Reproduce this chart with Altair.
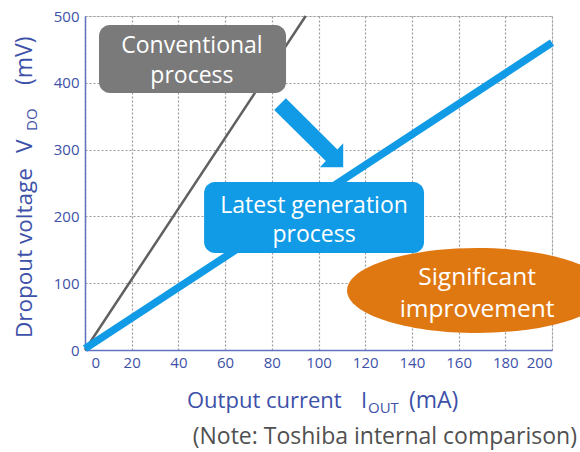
import altair as alt
import pandas as pd

# ---- data ----
current_latest = [0, 200]
vdo_latest = [2, 460]
current_conv = [0, 94.5]
vdo_conv = [0, 500]

x_ticks = [0, 20, 40, 60, 80, 100, 120, 140, 160, 180, 200]
y_ticks = [0, 50, 100, 150, 200, 250, 300, 350, 400, 450, 500]

AX = "#3d51a8"
FONT = "Open Sans"
W, H = 467, 334

xs = alt.Scale(domain=[0, 200], nice=False, zero=False)
ys = alt.Scale(domain=[0, 500], nice=False, zero=False)

df_latest = pd.DataFrame({"x": current_latest, "y": vdo_latest})
df_conv = pd.DataFrame({"x": current_conv, "y": vdo_conv})

xaxis = alt.Axis(values=x_ticks, title=None, grid=True, gridDash=[2, 2], gridColor="#9a9a9a",
                 gridWidth=1.2, ticks=False, labelFont=FONT, labelFontSize=15, labelColor=AX,
                 labelPadding=5, domainColor="#6272c4", domainWidth=1.5,
                 labelOffset={"condition": {"test": "datum.value == 0", "value": 6}, "value": 0})
yaxis = alt.Axis(values=y_ticks, title=None, grid=True, gridDash=[2, 2], gridColor="#9a9a9a",
                 gridWidth=1.2, ticks=False, labelFont=FONT, labelFontSize=15, labelColor=AX,
                 labelPadding=6, domainColor="#6272c4", domainWidth=1.5,
                 labelExpr="datum.value % 100 == 0 ? datum.label : ''")

conv = alt.Chart(df_conv).mark_line(color="#606060", strokeWidth=2.5).encode(
    x=alt.X("x:Q", scale=xs, axis=xaxis), y=alt.Y("y:Q", scale=ys, axis=yaxis))
latest = alt.Chart(df_latest).mark_line(color="#119be6", strokeWidth=7.5).encode(
    x=alt.X("x:Q", scale=xs), y=alt.Y("y:Q", scale=ys))

# annotation boxes (data coordinates)
box_df = pd.DataFrame({
    "x": [6.0, 51.0], "x2": [86.1, 145.2], "y": [486.5, 251.5], "y2": [384.7, 145.2],
    "c": ["#7a7a7a", "#119be6"]})
boxes = alt.Chart(box_df).mark_rect(cornerRadius=11).encode(
    x=alt.X("x:Q", scale=xs), x2="x2:Q", y=alt.Y("y:Q", scale=ys), y2="y2:Q",
    color=alt.Color("c:N", scale=None))

arrow_path = ("M-0.661,-1 L0.832,0.484 L1,0.304 L1,1 L0.325,1 L0.496,0.82 L-1,-0.661 Z")
arrow_df = pd.DataFrame({"x": [95.8], "y": [325.1]})
arrow = alt.Chart(arrow_df).mark_point(shape=arrow_path, size=4761, filled=True, opacity=1,
                                       color="#119be6", strokeWidth=0).encode(
    x=alt.X("x:Q", scale=xs), y=alt.Y("y:Q", scale=ys))

ellipse_path = "M-1,0 A1,0.327 0 1,1 1,0 A1,0.327 0 1,1 -1,0 Z"
ell_df = pd.DataFrame({"x": [167.9], "y": [89.1]})
ellipse = alt.Chart(ell_df).mark_point(shape=ellipse_path, size=67600, filled=True, opacity=1,
                                       color="#e07812", strokeWidth=0).encode(
    x=alt.X("x:Q", scale=xs), y=alt.Y("y:Q", scale=ys))

lab_df = pd.DataFrame({
    "x": [45.8, 45.8, 98.1, 98.1, 167.9, 167.9],
    "y": [445, 399.5, 205, 161, 97, 49.5],
    "t": ["Conventional", "process", "Latest generation", "process", "Significant", "improvement"],
    "s": [23, 23, 23, 23, 24.5, 24.5]})
labels = alt.Chart(lab_df).mark_text(color="white", font=FONT, align="center",
                                     baseline="alphabetic").encode(
    x=alt.X("x:Q", scale=xs), y=alt.Y("y:Q", scale=ys), text="t:N",
    size=alt.Size("s:Q", scale=None, legend=None))

# axis titles & note (pixel positions relative to plot area)
def txt(s, x, y, size, color=AX, angle=0, align="left"):
    kw = dict(font=FONT, fontSize=size, color=color, align=align, baseline="alphabetic")
    if angle:
        kw["angle"] = angle
    return alt.Chart(pd.DataFrame({"t": [s]})).mark_text(**kw).encode(
        x=alt.value(x), y=alt.value(y), text="t:N")

titles = [
    txt("Output current", 102, 392, 22),
    txt("I", 276, 392, 22),
    txt("OUT", 283, 397, 15),
    txt("(mA)", 324, 392, 23),
    txt("Dropout voltage", -53, 322, 22.5, angle=270),
    txt("V", -53, 137, 22.5, angle=270),
    txt("DO", -48, 115, 15, angle=270),
    txt("(mV)", -53, 69, 23, angle=270),
    txt("(Note: Toshiba internal comparison)", 492, 428, 23, color="#505050", align="right"),
]

chart = alt.layer(conv, latest, boxes, arrow, ellipse, labels, *titles).properties(
    width=W, height=H,
    autosize=alt.AutoSizeParams(type="none"),
    padding={"left": 85, "top": 16, "right": 28, "bottom": 102},
).configure_view(stroke="#6272c4", strokeWidth=1.5).configure(background="white")

chart.save("out.html", embed_options={"renderer": "svg", "actions": False})
